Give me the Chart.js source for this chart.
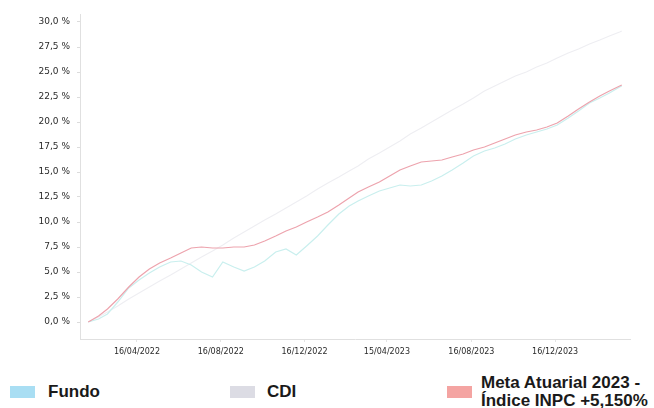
<!DOCTYPE html>
<html>
<head>
<meta charset="utf-8">
<script src="https://cdn.jsdelivr.net/npm/chart.js@4.4.1/dist/chart.umd.min.js"></script>
<style>
  html, body { margin: 0; padding: 0; background: #fff; }
  #wrap { position: relative; width: 654px; height: 408px; overflow: hidden; }
  #chart { position: absolute; left: 0; top: 0; }
  .leg { position: absolute; font-family: "Liberation Sans", Arial, sans-serif; font-weight: bold; font-size: 17px; color: #1a1a1a; line-height: 18px; }
  .sw { position: absolute; width: 25px; height: 12px; }
</style>
</head>
<body>
<div id="wrap">
  <canvas id="chart" width="654" height="366"></canvas>
  <div class="sw" style="left:10px;top:386px;background:#a9def3"></div>
  <div class="leg" style="left:48px;top:383px">Fundo</div>
  <div class="sw" style="left:230px;top:386px;background:#dcdce4"></div>
  <div class="leg" style="left:267px;top:383px">CDI</div>
  <div class="sw" style="left:447px;top:386px;background:#f4a4a2"></div>
  <div class="leg" style="left:481px;top:374px">Meta Atuarial 2023 -<br>Índice INPC +5,150%</div>
</div>
<script>
// datas (dd/mm/aaaa) e rentabilidade acumulada em %
const dates = [
  '04/02/2022','19/02/2022','04/03/2022','19/03/2022','04/04/2022','19/04/2022',
  '04/05/2022','19/05/2022','04/06/2022','19/06/2022','04/07/2022','19/07/2022',
  '04/08/2022','19/08/2022','04/09/2022','19/09/2022','04/10/2022','19/10/2022',
  '04/11/2022','19/11/2022','04/12/2022','19/12/2022','04/01/2023','19/01/2023',
  '04/02/2023','19/02/2023','04/03/2023','19/03/2023','04/04/2023','19/04/2023',
  '04/05/2023','19/05/2023','04/06/2023','19/06/2023','04/07/2023','19/07/2023',
  '04/08/2023','19/08/2023','04/09/2023','19/09/2023','04/10/2023','19/10/2023',
  '04/11/2023','19/11/2023','04/12/2023','19/12/2023','04/01/2024','19/01/2024',
  '04/02/2024','19/02/2024','04/03/2024','19/03/2024','22/03/2024'
];
const fundo = [
  0.0, 0.3, 0.8, 2.0, 3.4, 4.2, 4.9, 5.5, 6.0, 6.1, 5.7, 5.0,
  4.5, 6.0, 5.5, 5.1, 5.5, 6.1, 7.0, 7.3, 6.7, 7.6, 8.6, 9.7,
  10.8, 11.6, 12.1, 12.6, 13.1, 13.4, 13.7, 13.6, 13.7, 14.1, 14.6, 15.2,
  15.9, 16.6, 17.1, 17.4, 17.8, 18.3, 18.7, 19.0, 19.3, 19.7, 20.4, 21.1,
  21.9, 22.4, 22.9, 23.5, 23.6
];
const cdi = [
  0.0, 0.5, 1.0, 1.6, 2.3, 2.9, 3.5, 4.1, 4.7, 5.3, 5.9, 6.5,
  7.1, 7.7, 8.4, 9.0, 9.6, 10.2, 10.8, 11.4, 12.0, 12.6, 13.3, 13.9,
  14.5, 15.1, 15.6, 16.3, 16.9, 17.5, 18.1, 18.8, 19.4, 20.0, 20.6, 21.2,
  21.8, 22.4, 23.1, 23.6, 24.1, 24.6, 25.0, 25.5, 25.9, 26.4, 26.9, 27.3,
  27.8, 28.2, 28.6, 29.0, 29.1
];
const meta = [
  0.0, 0.6, 1.3, 2.3, 3.5, 4.5, 5.3, 5.9, 6.4, 6.9, 7.4, 7.5,
  7.4, 7.4, 7.5, 7.5, 7.7, 8.1, 8.6, 9.1, 9.5, 10.0, 10.5, 11.0,
  11.7, 12.4, 13.0, 13.5, 14.0, 14.6, 15.2, 15.6, 16.0, 16.1, 16.2, 16.5,
  16.8, 17.2, 17.5, 17.9, 18.3, 18.7, 19.0, 19.2, 19.5, 19.9, 20.6, 21.3,
  22.0, 22.6, 23.1, 23.6, 23.7
];
const xTickLabels = ['16/04/2022', '16/08/2022', '16/12/2022', '15/04/2023', '16/08/2023', '16/12/2023'];
const yTickValues = [0, 2.5, 5, 7.5, 10, 12.5, 15, 17.5, 20, 22.5, 25, 27.5, 30];

function dayNum(s) {
  const [d, m, y] = s.split('/').map(Number);
  return Date.UTC(y, m - 1, d) / 86400000;
}
const toPoints = (arr) => dates.map((d, i) => ({ x: dayNum(d), y: arr[i] }));
const day0 = dayNum(dates[0]);
const tickDays = xTickLabels.map(dayNum);

const fmtPct = (v) => v.toFixed(1).replace('.', ',') + ' %';

new Chart(document.getElementById('chart'), {
  type: 'line',
  data: {
    datasets: [
      { label: 'Meta Atuarial 2023 - Índice INPC +5,150%', data: toPoints(meta), borderColor: '#eda3ad', borderWidth: 1.2 },
      { label: 'Fundo', data: toPoints(fundo), borderColor: '#c9efee', borderWidth: 1.2 },
      { label: 'CDI', data: toPoints(cdi), borderColor: '#eeeef2', borderWidth: 1.1 }
    ]
  },
  options: {
    responsive: false,
    animation: false,
    elements: { point: { radius: 0 }, line: { tension: 0 } },
    layout: { padding: { top: 14, right: 24, left: 0, bottom: 0 } },
    plugins: { legend: { display: false }, tooltip: { enabled: false } },
    scales: {
      x: {
        type: 'linear',
        min: day0 - 12,
        max: day0 + 789,
        afterBuildTicks: (scale) => { scale.ticks = tickDays.map(v => ({ value: v })); },
        afterFit: (scale) => { scale.height = 27; },
        ticks: {
          autoSkip: false,
          maxRotation: 0,
          padding: 5,
          color: '#2a2a2a',
          font: { family: 'DejaVu Sans', size: 8 },
          callback: (v) => xTickLabels[tickDays.indexOf(v)] || ''
        },
        grid: { display: true, drawOnChartArea: false, tickLength: 3, color: '#e4e4e4' },
        border: { color: '#e0e0e0' }
      },
      y: {
        min: -1.7,
        max: 30.8,
        afterBuildTicks: (scale) => { scale.ticks = yTickValues.map(v => ({ value: v })); },
        afterFit: (scale) => { scale.width = 80; },
        ticks: {
          padding: 7,
          color: '#2a2a2a',
          font: { family: 'DejaVu Sans', size: 9 },
          callback: (v) => fmtPct(v)
        },
        grid: { display: true, drawOnChartArea: false, tickLength: 3, color: '#dcdcdc' },
        border: { color: '#e0e0e0' }
      }
    }
  }
});
</script>
</body>
</html>
